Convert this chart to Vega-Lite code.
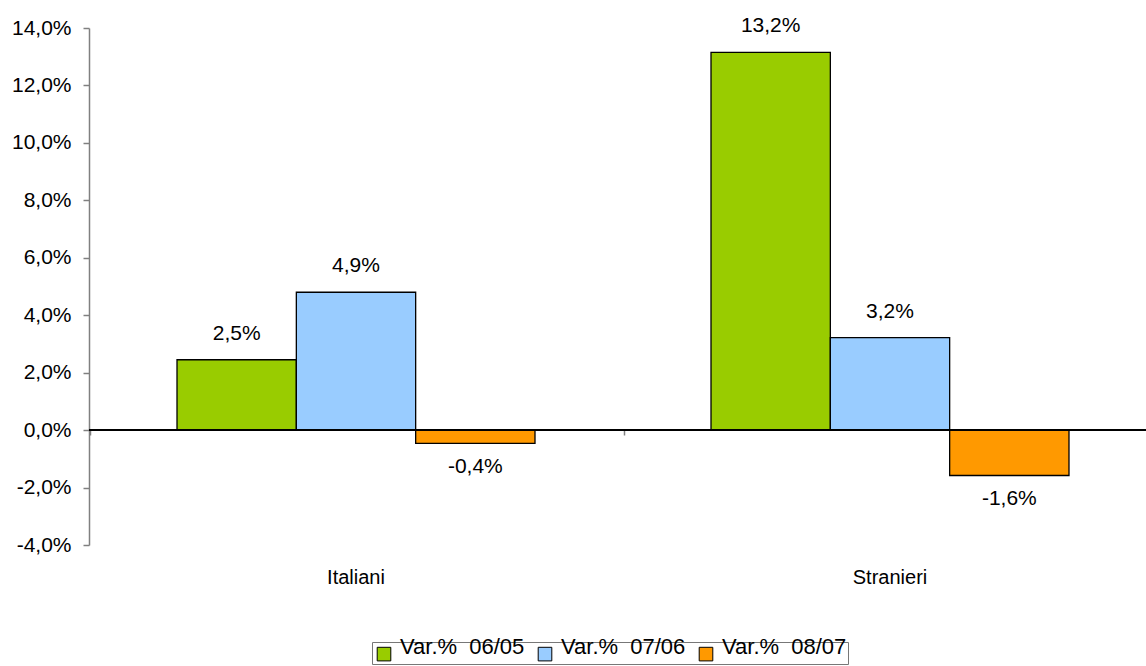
{
  "$schema": "https://vega.github.io/schema/vega-lite/v6.json",
  "autosize": "none",
  "width": 1057,
  "height": 517,
  "padding": {"left": 89, "top": 28, "right": 0, "bottom": 121},
  "background": "white",
  "config": {"view": {"stroke": null}, "font": "Liberation Sans", "text": {"font": "Liberation Sans"}},
  "data": {"values": [
    {"gruppo": "Italiani", "serie": "Var.%\u00a0 06/05", "valore": 2.45, "etichetta": "2,5%"},
    {"gruppo": "Italiani", "serie": "Var.%\u00a0 07/06", "valore": 4.8, "etichetta": "4,9%"},
    {"gruppo": "Italiani", "serie": "Var.%\u00a0 08/07", "valore": -0.46, "etichetta": "-0,4%"},
    {"gruppo": "Stranieri", "serie": "Var.%\u00a0 06/05", "valore": 13.15, "etichetta": "13,2%"},
    {"gruppo": "Stranieri", "serie": "Var.%\u00a0 07/06", "valore": 3.22, "etichetta": "3,2%"},
    {"gruppo": "Stranieri", "serie": "Var.%\u00a0 08/07", "valore": -1.58, "etichetta": "-1,6%"}
  ]},
  "encoding": {
    "y": {
      "field": "valore", "type": "quantitative",
      "scale": {"domain": [-4, 14], "nice": false, "zero": false},
      "axis": {
        "title": null, "grid": false,
        "values": [-4, -2, 0, 2, 4, 6, 8, 10, 12, 14],
        "labelExpr": "(datum.value < 0 ? '-' : '') + replace(format(abs(datum.value), '.1f'), '.', ',') + '%'",
        "labelFontSize": 21, "labelColor": "black", "labelPadding": 12,
        "tickSize": 6, "tickColor": "#808080", "domainColor": "#808080", "domainWidth": 1.5, "tickWidth": 1.5
      }
    }
  },
  "layer": [
    {
      "mark": {"type": "bar", "stroke": "black", "strokeWidth": 1.3},
      "encoding": {
        "x": {
          "field": "gruppo", "type": "nominal", "sort": ["Italiani", "Stranieri"],
          "scale": {"range": [0, 1068], "paddingInner": 0.3296, "paddingOuter": 0.1648},
          "axis": {"title": null, "domain": false, "ticks": false, "labelAngle": 0, "labelPadding": 22, "labelFontSize": 20, "labelColor": "black"}
        },
        "xOffset": {
          "field": "serie", "type": "nominal",
          "sort": ["Var.%\u00a0 06/05", "Var.%\u00a0 07/06", "Var.%\u00a0 08/07"],
          "scale": {"paddingInner": 0, "paddingOuter": 0}
        },
        "color": {
          "field": "serie", "type": "nominal",
          "scale": {"domain": ["Var.%\u00a0 06/05", "Var.%\u00a0 07/06", "Var.%\u00a0 08/07"], "range": ["#99CC00", "#99CCFF", "#FF9900"]},
          "legend": {
            "orient": "none", "legendX": 283, "legendY": 614, "direction": "horizontal", "title": null,
            "strokeColor": "#777777", "fillColor": "white", "padding": 1,
            "symbolType": "square", "symbolSize": 185, "symbolStrokeColor": "black", "symbolStrokeWidth": 1,
            "labelFontSize": 22, "labelBaseline": "alphabetic", "labelColor": "black", "columnPadding": 9, "labelOffset": 5
          }
        }
      }
    },
    {
      "mark": {"type": "rule", "color": "black", "strokeWidth": 1.5},
      "encoding": {"y": {"datum": 0}}
    },
    {
      "transform": [{"filter": "datum.valore > 0"}],
      "mark": {"type": "text", "baseline": "middle", "dy": -26, "fontSize": 21, "color": "black"},
      "encoding": {
        "x": {
          "field": "gruppo", "type": "nominal", "sort": ["Italiani", "Stranieri"],
          "axis": {"title": null, "orient": "bottom", "offset": -115, "domain": false, "labels": false, "ticks": true, "tickSize": 5, "tickColor": "#808080", "tickWidth": 1.5, "bandPosition": -0.243}
        },
        "xOffset": {"field": "serie", "type": "nominal", "sort": ["Var.%\u00a0 06/05", "Var.%\u00a0 07/06", "Var.%\u00a0 08/07"]},
        "text": {"field": "etichetta"}
      }
    },
    {
      "transform": [{"filter": "datum.valore < 0"}],
      "mark": {"type": "text", "baseline": "middle", "dy": 24, "fontSize": 21, "color": "black"},
      "encoding": {
        "x": {"field": "gruppo", "type": "nominal", "sort": ["Italiani", "Stranieri"], "axis": null},
        "xOffset": {"field": "serie", "type": "nominal", "sort": ["Var.%\u00a0 06/05", "Var.%\u00a0 07/06", "Var.%\u00a0 08/07"]},
        "text": {"field": "etichetta"}
      }
    }
  ],
  "resolve": {"axis": {"x": "independent"}}
}
